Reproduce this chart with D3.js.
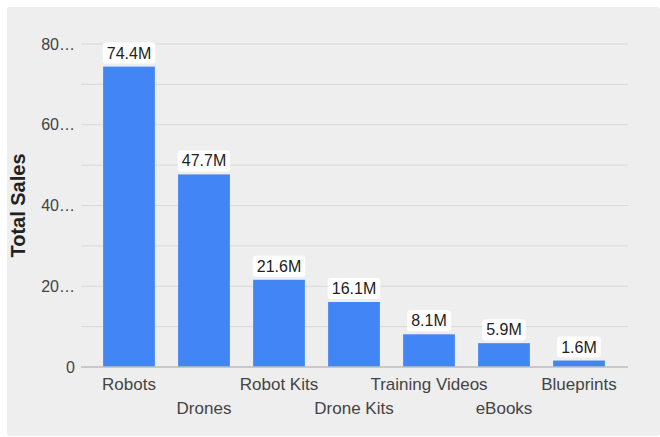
<!DOCTYPE html>
<html>
<head>
<meta charset="utf-8">
<script src="https://cdn.jsdelivr.net/npm/d3@7"></script>
<style>
  html, body { margin: 0; padding: 0; background: #ffffff; }
  svg { display: block; font-family: Arial, "Liberation Sans", sans-serif; }
</style>
</head>
<body>
<svg id="chart" width="660" height="437"></svg>
<script>
// Product categories and their total sales (millions)
const categories = ["Robots", "Drones", "Robot Kits", "Drone Kits", "Training Videos", "eBooks", "Blueprints"];
const sales = [74.4, 47.7, 21.6, 16.1, 8.1, 5.9, 1.6];
const valueLabels = ["74.4M", "47.7M", "21.6M", "16.1M", "8.1M", "5.9M", "1.6M"];
const yTicks = [0, 20, 40, 60, 80];
const yTickLabels = ["0", "20…", "40…", "60…", "80…"];
const yGrid = [0, 10, 20, 30, 40, 50, 60, 70, 80];
const axisTitle = "Total Sales";

const svg = d3.select("#chart");

// panel background
svg.append("rect")
  .attr("x", 7).attr("y", 7)
  .attr("width", 653).attr("height", 429)
  .attr("rx", 3)
  .attr("fill", "#eeeeee");

const plot = { left: 81, right: 628, top: 44, bottom: 367 };

const x = d3.scaleBand()
  .domain(categories)
  .range([91.5, 616.5])
  .paddingInner(0.31)
  .paddingOuter(0.155);

const y = d3.scaleLinear()
  .domain([0, 80])
  .range([plot.bottom, plot.top]);

// gridlines
svg.append("g")
  .selectAll("line")
  .data(yGrid.filter(d => d !== 0))
  .join("line")
  .attr("x1", plot.left).attr("x2", plot.right)
  .attr("y1", d => y(d)).attr("y2", d => y(d))
  .attr("stroke", "#d9d9d9")
  .attr("stroke-width", 1);

// y axis tick labels
const yAxis = d3.axisLeft(y)
  .tickValues(yTicks)
  .tickSize(0)
  .tickPadding(6)
  .tickFormat((d, i) => yTickLabels[i]);

const yg = svg.append("g")
  .attr("transform", `translate(${plot.left},0)`)
  .call(yAxis);
yg.select(".domain").remove();
yg.selectAll("text")
  .attr("fill", "#444444")
  .style("font-size", "16px");

// bars
svg.append("g")
  .selectAll("rect")
  .data(categories)
  .join("rect")
  .attr("x", d => x(d))
  .attr("width", x.bandwidth())
  .attr("y", (d, i) => y(sales[i]))
  .attr("height", (d, i) => y(0) - y(sales[i]))
  .attr("fill", "#4285f4");

// baseline
svg.append("line")
  .attr("x1", plot.left).attr("x2", plot.right)
  .attr("y1", y(0)).attr("y2", y(0))
  .attr("stroke", "#bdbdbd")
  .attr("stroke-width", 1.5);

// x axis labels, alternating rows
const xAxis = d3.axisBottom(x).tickSize(0).tickPadding(0);
const xg = svg.append("g")
  .attr("transform", `translate(0,${plot.bottom})`)
  .call(xAxis);
xg.select(".domain").remove();
xg.selectAll("text")
  .attr("fill", "#444444")
  .style("font-size", "17px")
  .attr("dy", null)
  .attr("y", (d, i) => i % 2 === 0 ? 23 : 47);

// value labels with white boxes
const lbl = svg.append("g")
  .selectAll("g")
  .data(categories)
  .join("g")
  .attr("transform", (d, i) => `translate(${x(d) + x.bandwidth() / 2},${y(sales[i]) - 3})`);

lbl.each(function(d, i) {
  const g = d3.select(this);
  const t = g.append("text")
    .attr("text-anchor", "middle")
    .attr("y", -5)
    .attr("fill", "#222222")
    .style("font-size", "16px")
    .text(valueLabels[i]);
  const bb = t.node().getBBox();
  g.insert("rect", "text")
    .attr("x", bb.x - 4)
    .attr("y", -21)
    .attr("width", bb.width + 8)
    .attr("height", 21)
    .attr("rx", 3)
    .attr("fill", "#ffffff");
});

// y axis title
svg.append("text")
  .attr("transform", `translate(25,${(plot.top + plot.bottom) / 2}) rotate(-90)`)
  .attr("text-anchor", "middle")
  .attr("fill", "#222222")
  .style("font-size", "20px")
  .style("font-weight", "bold")
  .text(axisTitle);
</script>
</body>
</html>
